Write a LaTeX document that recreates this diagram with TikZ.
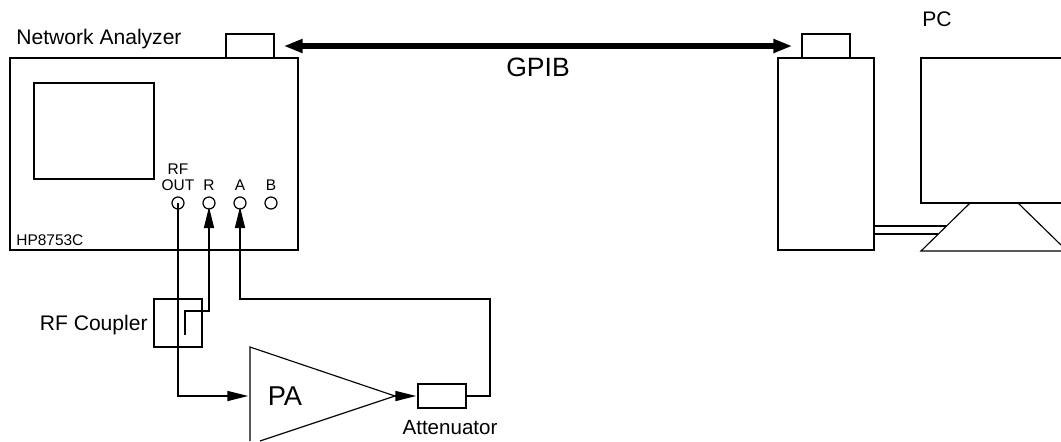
\documentclass[tikz,border=0pt]{standalone}
\usepackage{fontspec}
\setmainfont{Liberation Sans}
\usetikzlibrary{arrows.meta}
\tikzset{
    box/.style={draw, line width=0.95pt, inner sep=0pt, outer sep=0pt},
    port/.style={draw, circle, line width=0.7pt, minimum size=0.24cm, inner sep=0pt, outer sep=0pt},
    wire/.style={line width=0.95pt, -{Triangle[length=0.42cm,width=0.2cm]}, shorten >=2.3pt},
    plainwire/.style={line width=0.95pt},
    thinline/.style={line width=0.65pt},
    bus/.style={line width=3.4pt, {Triangle[length=0.38cm,width=0.26cm]}-{Triangle[length=0.38cm,width=0.26cm]}},
    biglabel/.style={font=\fontsize{12pt}{13pt}\selectfont, inner sep=0pt},
    smalllabel/.style={font=\fontsize{8.8pt}{9.1pt}\selectfont, inner sep=0pt, align=center}
}
\begin{document}
\begin{tikzpicture}[x=0.02cm,y=-0.02cm]
        \useasboundingbox (0,0) rectangle (1061,441);

        % analyzer
        \node[box, minimum width=5.76cm, minimum height=3.84cm] (analyzer) at (154,154) {};
        \node[box, minimum width=0.96cm, minimum height=0.48cm] (gpiba) at (250,46) {};
        \node[box, minimum width=2.4cm, minimum height=1.92cm] (screen) at (94,131) {};
        \node[biglabel, anchor=west] (nalabel) at (16,39) {Network Analyzer};
        \node[smalllabel, anchor=west] (hplabel) at (16,240) {HP8753C};

        \node[port] (rfout) at (178,203) {};
        \node[port] (portr) at (209,203) {};
        \node[port] (porta) at (240,203) {};
        \node[port] (portb) at (271,203) {};
        \node[smalllabel] (rfoutlabel) at (178,177) {RF\\OUT};
        \node[smalllabel] (rlabel) at (209,185) {R};
        \node[smalllabel] (alabel) at (240,185) {A};
        \node[smalllabel] (blabel) at (271,185) {B};

        % computer
        \node[box, minimum width=1.92cm, minimum height=3.84cm] (tower) at (826,154) {};
        \node[box, minimum width=0.96cm, minimum height=0.48cm] (gpibb) at (826,46) {};
        \node[biglabel, anchor=west] (pclabel) at (922,19) {PC};
        \draw[plainwire] (1061,58) -- (921,58) -- (921,203) -- (1061,203);
        \draw[thinline] (970,203) -- (921,251) -- (1061,251);
        \draw[thinline] (1018,203) -- (1061,245);
        \coordinate (cabletop) at (946,226);
        \coordinate (cablebot) at (938,234);
        \draw[plainwire] (tower.east |- cabletop) -- (cabletop);
        \draw[plainwire] (tower.east |- cablebot) -- (cablebot);

        \draw[bus, yshift=0.5pt, shorten <=5.5pt, shorten >=5.5pt] (gpiba) -- (gpibb);
        \node[font=\fontsize{15.1pt}{16pt}\selectfont, inner sep=0pt] (gpiblabel) at (538,67) {GPIB};

        % coupler
        \node[box, minimum width=0.96cm, minimum height=0.96cm] (coupler) at (178,323) {};
        \node[biglabel, anchor=east] (couplerlabel) at (148,325) {RF Coupler};
        \coordinate (tapend) at (185,335);
        \coordinate (tapknee) at (185,311);
        \draw[wire] (tapend) -- (tapknee) -| (portr.center);

        % amplifier
        \coordinate (pain) at (250,396);
        \coordinate (paout) at (395,396);
        \draw[thinline] (250,441) -- (250,347) -- (paout) -- (260,441);
        \node[font=\fontsize{15.5pt}{16pt}\selectfont, inner sep=0pt] (palabel) at (285,396) {PA};
        \draw[wire, shorten >=1pt] (rfout.center) |- (pain);

        % attenuator
        \node[box, minimum width=0.96cm, minimum height=0.48cm] (atten) at (442,396) {};
        \node[font=\fontsize{11.7pt}{13pt}\selectfont, inner sep=0pt] (attenlabel) at (450,428) {Attenuator};
        \draw[wire, shorten >=1pt] (paout) -- (atten);
        \coordinate (loopcorner) at (490,299);
        \draw[wire] (atten) -| (loopcorner) -| (porta.center);
\end{tikzpicture}
\end{document}
